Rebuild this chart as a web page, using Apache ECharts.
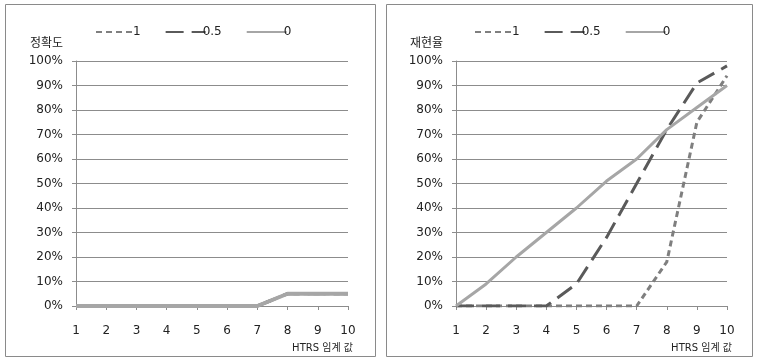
<!DOCTYPE html>
<html>
<head>
<meta charset="utf-8">
<script src="https://cdn.jsdelivr.net/npm/echarts@6/dist/echarts.min.js"></script>
<style>
  html, body { margin: 0; padding: 0; background: #fff; }
  #chart { width: 758px; height: 360px; }
</style>
</head>
<body>
<div id="chart"></div>
<script>
// HTRS threshold values on the x axis
const thresholds = ['1', '2', '3', '4', '5', '6', '7', '8', '9', '10'];
const seriesNames = ['1', '0.5', '0'];

// Precision (정확도), percent
const precision1  = [0, 0, 0, 0, 0, 0, 0, 5, 5, 5];
const precision05 = [0, 0, 0, 0, 0, 0, 0, 5, 5, 5];
const precision0  = [0, 0, 0, 0, 0, 0, 0, 5, 5, 5];

// Recall (재현율), percent
const recall1  = [0, 0, 0, 0, 0, 0, 0, 18, 75, 94];
const recall05 = [0, 0, 0, 0, 9, 28, 50, 72, 91, 98];
const recall0  = [0, 9, 20, 30, 40, 51, 60, 72, 81, 90];

const yTicks = { min: 0, max: 100, interval: 10 };

const FONT = 'DejaVu Sans, "Noto Sans CJK KR", sans-serif';
const TEXT = '#222';
const GRID_LINE = '#8c8c8c';

const styles = [
  { color: '#7f7f7f', width: 3, type: [6, 4] },
  { color: '#5a5a5a', width: 3, type: [18, 8] },
  { color: '#a6a6a6', width: 3, type: 'solid' }
];

function xAxisFor(gridIndex) {
  return {
    type: 'category',
    gridIndex,
    data: thresholds,
    boundaryGap: false,
    name: 'HTRS 임계 값',
    nameLocation: 'end',
    nameGap: 5,
    nameTextStyle: {
      fontFamily: FONT, fontSize: 10, color: TEXT,
      align: 'right', verticalAlign: 'top', padding: [37, 0, 0, 0]
    },
    axisLine: { lineStyle: { color: GRID_LINE, width: 1 } },
    axisTick: { show: true, length: 4, alignWithLabel: true, lineStyle: { color: GRID_LINE } },
    axisLabel: { fontFamily: FONT, fontSize: 12, color: TEXT, margin: 19, interval: 0 },
    splitLine: { show: false }
  };
}

function yAxisFor(gridIndex, title) {
  return {
    type: 'value',
    gridIndex,
    min: yTicks.min,
    max: yTicks.max,
    interval: yTicks.interval,
    name: title,
    nameLocation: 'end',
    nameGap: 17,
    nameTextStyle: {
      fontFamily: FONT, fontSize: 12, color: TEXT,
      align: 'right', verticalAlign: 'middle', padding: [0, 13, 0, 0]
    },
    axisLine: { show: true, lineStyle: { color: GRID_LINE, width: 1 } },
    axisTick: { show: true, length: 4, lineStyle: { color: GRID_LINE } },
    axisLabel: { fontFamily: FONT, fontSize: 12, color: TEXT, margin: 13, formatter: '{value}%' },
    splitLine: { show: true, lineStyle: { color: GRID_LINE, width: 1 } }
  };
}

function lineSeries(name, data, idx, axisIndex, width) {
  const s = styles[idx];
  return {
    name,
    type: 'line',
    xAxisIndex: axisIndex,
    yAxisIndex: axisIndex,
    data,
    symbol: 'none',
    showSymbol: false,
    animation: false,
    silent: true,
    z: 2 + idx,
    color: s.color,
    lineStyle: { color: s.color, width: width || s.width, type: s.type, cap: 'butt' }
  };
}

function legendFor(left) {
  return {
    left,
    top: 21,
    itemWidth: 40,
    itemHeight: 14,
    itemGap: 24,
    selectedMode: false,
    textStyle: { fontFamily: FONT, fontSize: 12, color: TEXT, padding: [0, 0, 0, -8] },
    data: seriesNames.map(n => ({ name: n, itemStyle: { opacity: 0 } }))
  };
}

const chart = echarts.init(document.getElementById('chart'), null, { renderer: 'canvas' });

chart.setOption({
  backgroundColor: '#ffffff',
  animation: false,
  legend: [legendFor(90), legendFor(469)],
  grid: [
    { left: 76, right: 410, top: 61, bottom: 54 },
    { left: 456, right: 31, top: 61, bottom: 54 }
  ],
  xAxis: [xAxisFor(0), xAxisFor(1)],
  yAxis: [yAxisFor(0, '정확도'), yAxisFor(1, '재현율')],
  series: [
    lineSeries('1', precision1, 0, 0),
    lineSeries('0.5', precision05, 1, 0),
    lineSeries('0', precision0, 2, 0, 4),
    lineSeries('1', recall1, 0, 1),
    lineSeries('0.5', recall05, 1, 1),
    lineSeries('0', recall0, 2, 1)
  ],
  graphic: [
    { type: 'rect', silent: true, shape: { x: 5.5, y: 4.5, width: 370, height: 352 },
      style: { fill: 'none', stroke: '#8a8a8a', lineWidth: 1 } },
    { type: 'rect', silent: true, shape: { x: 386.5, y: 4.5, width: 366, height: 352 },
      style: { fill: 'none', stroke: '#8a8a8a', lineWidth: 1 } }
  ]
});
</script>
</body>
</html>
